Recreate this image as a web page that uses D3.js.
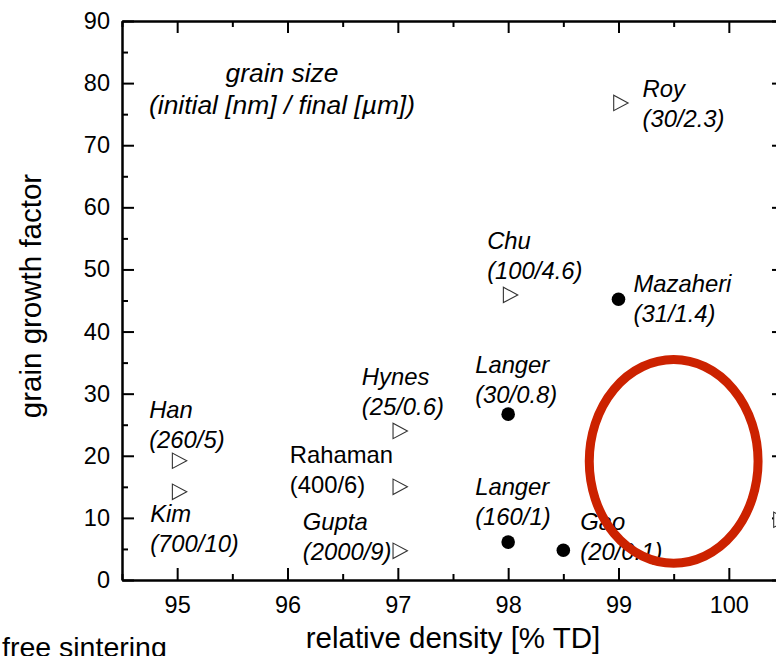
<!DOCTYPE html>
<html>
<head>
<meta charset="utf-8">
<script src="https://cdn.jsdelivr.net/npm/d3@7"></script>
<style>
  html, body { margin: 0; padding: 0; background: #fff; overflow: hidden; }
  svg { display: block; }
  text { font-family: "Liberation Sans", Arial, Helvetica, sans-serif; fill: #000; }
</style>
</head>
<body>
<svg id="chart" width="820" height="680"></svg>
<script>
// Grain growth factor vs. relative density, literature values
const authors     = ["Roy", "Chu", "Mazaheri", "Langer", "Hynes", "Han", "Rahaman", "Kim", "Gupta", "Langer", "Gao"];
const grainSizes  = ["(30/2.3)", "(100/4.6)", "(31/1.4)", "(30/0.8)", "(25/0.6)", "(260/5)", "(400/6)", "(700/10)", "(2000/9)", "(160/1)", "(20/0.1)"];
const density     = [99, 98, 99, 98, 97, 95, 97, 95, 97, 98, 98.5];
const growthFactor = [76.8, 45.9, 45.2, 26.7, 24.0, 19.2, 15.0, 14.2, 4.7, 6.1, 4.8];
const markerKind  = ["open", "open", "filled", "filled", "open", "open", "open", "open", "open", "filled", "filled"];

// point at the right edge of the axis range (no label)
const edgeDensity = [100.45];
const edgeGrowth  = [9.7];

const xTicks = [95, 96, 97, 98, 99, 100];
const xMinorTicks = [94.5, 95.5, 96.5, 97.5, 98.5, 99.5, 100.5];
const yTicks = [0, 10, 20, 30, 40, 50, 60, 70, 80, 90];
const yMinorTicks = [5, 15, 25, 35, 45, 55, 65, 75, 85];

// highlighted region (centre and radii in data units)
const highlightCenter = [99.5, 19.1];
const highlightRadii  = [0.765, 16.4];

// label placement: offset of the first text line from its marker [dx, dy] in px, italic flag
const labelOffset = [[24, -6], [-21, -46], [15, -7], [-33, -41], [-36, -46], [-28, -43],
                     [-108, -24], [-27, 30], [-95, -21], [-33, -47], [17, -20]];
const labelItalic = [true, true, true, true, true, true, false, true, true, true, true];
const lineGap = 30;

const svg = d3.select("#chart");
const x = d3.scaleLinear().domain([94.5, 100.5]).range([122, 784]);
const y = d3.scaleLinear().domain([0, 90]).range([580, 21]);

const frame = svg.append("g");
const tickFont = 23.5;

function styleAxis(g) {
  g.select(".domain").attr("stroke", "#000").attr("stroke-width", 2);
  g.selectAll(".tick line").attr("stroke", "#000").attr("stroke-width", 2);
  g.selectAll(".tick text")
    .attr("font-family", "Liberation Sans, Arial, sans-serif")
    .attr("font-size", tickFont).attr("fill", "#000");
}

// bottom axis with labels
frame.append("g").attr("transform", "translate(0,580)")
  .call(d3.axisBottom(x).tickValues(xTicks).tickSize(-12).tickSizeOuter(0).tickPadding(16.5).tickFormat(d3.format("d")))
  .call(styleAxis);
frame.append("g").attr("transform", "translate(0,580)")
  .call(d3.axisBottom(x).tickValues(xMinorTicks).tickSize(-6).tickSizeOuter(0).tickFormat(""))
  .call(styleAxis);

// top axis
frame.append("g").attr("transform", "translate(0,21)")
  .call(d3.axisTop(x).tickValues(xTicks).tickSize(-12).tickSizeOuter(0).tickFormat(""))
  .call(styleAxis);
frame.append("g").attr("transform", "translate(0,21)")
  .call(d3.axisTop(x).tickValues(xMinorTicks).tickSize(-6).tickSizeOuter(0).tickFormat(""))
  .call(styleAxis);

// left axis with labels
frame.append("g").attr("transform", "translate(122,0)")
  .call(d3.axisLeft(y).tickValues(yTicks).tickSize(-12).tickSizeOuter(0).tickPadding(12).tickFormat(d3.format("d")))
  .call(styleAxis);
frame.append("g").attr("transform", "translate(122,0)")
  .call(d3.axisLeft(y).tickValues(yMinorTicks).tickSize(-6).tickSizeOuter(0).tickFormat(""))
  .call(styleAxis);

// right axis
frame.append("g").attr("transform", "translate(784,0)")
  .call(d3.axisRight(y).tickValues(yTicks).tickSize(-12).tickSizeOuter(0).tickFormat(""))
  .call(styleAxis);
frame.append("g").attr("transform", "translate(784,0)")
  .call(d3.axisRight(y).tickValues(yMinorTicks).tickSize(-6).tickSizeOuter(0).tickFormat(""))
  .call(styleAxis);

// axis titles
svg.append("text")
  .attr("x", 453).attr("y", 648)
  .attr("text-anchor", "middle").attr("font-size", 29.5)
  .text("relative density [% TD]");

svg.append("text")
  .attr("transform", "translate(41,296) rotate(-90)")
  .attr("text-anchor", "middle").attr("font-size", 29.5)
  .text("grain growth factor");

svg.append("text")
  .attr("x", 2).attr("y", 657)
  .attr("font-size", 28.5)
  .text("free sintering");

// note explaining the bracketed values
const note = svg.append("text")
  .attr("text-anchor", "middle").attr("font-size", 26.4).attr("font-style", "italic");
note.append("tspan").attr("x", 282).attr("y", 82).text("grain size");
note.append("tspan").attr("x", 282).attr("y", 114).text("(initial [nm] / final [µm])");

// markers
const points = density.map((d, i) => ({
  x: d, y: growthFactor[i], kind: markerKind[i],
  author: authors[i], size: grainSizes[i],
  off: labelOffset[i], italic: labelItalic[i]
}));
const edgePoints = edgeDensity.map((d, i) => ({ x: d, y: edgeGrowth[i], kind: "open" }));

const triangle = "M-4.8,-7.7L-4.8,7.7L9.6,0Z";
const marks = svg.append("g");

marks.selectAll("path.open")
  .data(points.concat(edgePoints).filter(p => p.kind === "open"))
  .join("path")
  .attr("class", "open")
  .attr("d", triangle)
  .attr("transform", p => `translate(${x(p.x)},${y(p.y)})`)
  .attr("fill", "#fff").attr("stroke", "#333").attr("stroke-width", 1.1);

marks.selectAll("circle.filled")
  .data(points.filter(p => p.kind === "filled"))
  .join("circle")
  .attr("class", "filled")
  .attr("cx", p => x(p.x)).attr("cy", p => y(p.y))
  .attr("r", 6.8).attr("fill", "#000");

// labels: author and grain sizes
const labels = svg.append("g");
points.forEach(p => {
  const px = x(p.x) + p.off[0];
  const py = y(p.y) + p.off[1];
  const t = labels.append("text")
    .attr("font-size", 23.8)
    .attr("font-style", p.italic ? "italic" : "normal");
  t.append("tspan").attr("x", px).attr("y", py).text(p.author);
  t.append("tspan").attr("x", px).attr("y", py + lineGap).text(p.size);
});

// highlighted region
svg.append("ellipse")
  .attr("cx", x(highlightCenter[0])).attr("cy", y(highlightCenter[1]))
  .attr("rx", x(highlightCenter[0] + highlightRadii[0]) - x(highlightCenter[0]))
  .attr("ry", y(highlightCenter[1]) - y(highlightCenter[1] + highlightRadii[1]))
  .attr("fill", "none").attr("stroke", "#cc2200").attr("stroke-width", 9);
</script>
</body>
</html>
